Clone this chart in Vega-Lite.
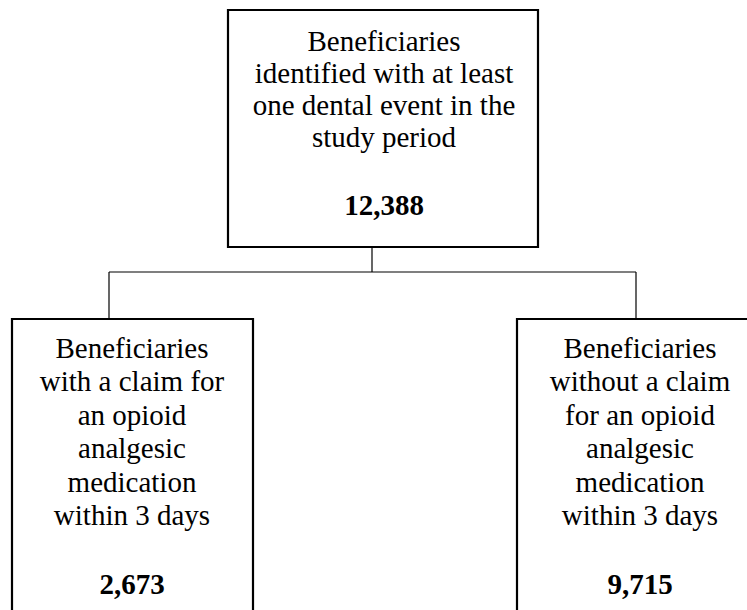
{
  "$schema": "https://vega.github.io/schema/vega-lite/v6.json",
  "width": 747,
  "height": 610,
  "autosize": {"type": "none"},
  "padding": 0,
  "background": "white",
  "config": {"view": {"stroke": null}},
  "datasets": {
    "boxes": [
      {"box": "all", "left": 228, "right": 538, "top": 10, "bottom": 247},
      {"box": "with", "left": 12, "right": 253, "top": 319, "bottom": 640},
      {"box": "without", "left": 517, "right": 765, "top": 319, "bottom": 640}
    ],
    "links": [
      {"x1": 372, "y1": 247, "x2": 372, "y2": 272},
      {"x1": 109, "y1": 272, "x2": 636, "y2": 272},
      {"x1": 109, "y1": 272, "x2": 109, "y2": 319},
      {"x1": 636, "y1": 272, "x2": 636, "y2": 319}
    ],
    "labels": [
      {"level": "top", "cx": 384, "base": 51, "label": "Beneficiaries\nidentified with at least\none dental event in the\nstudy period", "count": "12,388", "countBase": 215},
      {"level": "bottom", "cx": 132, "base": 358, "label": "Beneficiaries\nwith a claim for\nan opioid\nanalgesic\nmedication\nwithin 3 days", "count": "2,673", "countBase": 594},
      {"level": "bottom", "cx": 640, "base": 358, "label": "Beneficiaries\nwithout a claim\nfor an opioid\nanalgesic\nmedication\nwithin 3 days", "count": "9,715", "countBase": 594}
    ]
  },
  "layer": [
    {
      "data": {"name": "links"},
      "mark": {"type": "rule", "color": "black", "strokeWidth": 1.2, "clip": true},
      "encoding": {
        "x": {"field": "x1", "type": "quantitative", "scale": {"domain": [0, 747], "nice": false, "zero": false}, "axis": null},
        "y": {"field": "y1", "type": "quantitative", "scale": {"domain": [0, 610], "nice": false, "zero": false, "reverse": true}, "axis": null},
        "x2": {"field": "x2"},
        "y2": {"field": "y2"}
      }
    },
    {
      "data": {"name": "boxes"},
      "mark": {"type": "rect", "fill": "white", "stroke": "black", "strokeWidth": 2.2, "clip": true},
      "encoding": {
        "x": {"field": "left", "type": "quantitative"},
        "x2": {"field": "right"},
        "y": {"field": "top", "type": "quantitative"},
        "y2": {"field": "bottom"}
      }
    },
    {
      "data": {"name": "labels"},
      "transform": [{"filter": "datum.level === 'top'"}],
      "mark": {"type": "text", "font": "Liberation Serif", "fontSize": 29, "lineBreak": "\n", "lineHeight": 32, "align": "center", "baseline": "alphabetic", "color": "black"},
      "encoding": {
        "x": {"field": "cx", "type": "quantitative"},
        "y": {"field": "base", "type": "quantitative"},
        "text": {"field": "label"}
      }
    },
    {
      "data": {"name": "labels"},
      "transform": [{"filter": "datum.level === 'bottom'"}],
      "mark": {"type": "text", "font": "Liberation Serif", "fontSize": 29, "lineBreak": "\n", "lineHeight": 33.4, "align": "center", "baseline": "alphabetic", "color": "black"},
      "encoding": {
        "x": {"field": "cx", "type": "quantitative"},
        "y": {"field": "base", "type": "quantitative"},
        "text": {"field": "label"}
      }
    },
    {
      "data": {"name": "labels"},
      "mark": {"type": "text", "font": "Liberation Serif", "fontSize": 29, "fontWeight": "bold", "align": "center", "baseline": "alphabetic", "color": "black"},
      "encoding": {
        "x": {"field": "cx", "type": "quantitative"},
        "y": {"field": "countBase", "type": "quantitative"},
        "text": {"field": "count"}
      }
    }
  ]
}
